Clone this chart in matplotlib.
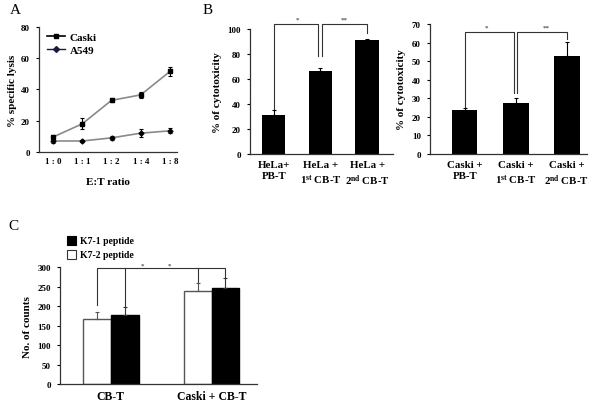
import matplotlib
matplotlib.use("Agg")
import matplotlib.pyplot as plt
from matplotlib.patches import Rectangle
import numpy as np

plt.rcParams['font.family'] = ['Liberation Serif', 'DejaVu Serif']
plt.rcParams['font.weight'] = 'bold'
plt.rcParams['mathtext.fontset'] = 'custom'
plt.rcParams['mathtext.rm'] = 'Liberation Serif:bold'
plt.rcParams['mathtext.it'] = 'Liberation Serif:bold'
plt.rcParams['mathtext.bf'] = 'Liberation Serif:bold'

# ---- Data ----
ratios = ["1 : 0", "1 : 1", "1 : 2", "1 : 4", "1 : 8"]
caski_lysis = [9.5, 18, 33, 36.5, 51.5]
caski_err = [1.5, 3.5, 1.2, 2.0, 3.0]
a549_lysis = [7, 7, 9, 12, 13.5]
a549_err = [1.0, 0.6, 1.5, 2.5, 1.5]

hela_labels = ["HeLa+\nPB-T", "HeLa +\n1$^{\\mathrm{st}}$ CB-T", "HeLa +\n2$^{\\mathrm{nd}}$ CB-T"]
hela_vals = [31, 66.5, 91]
hela_err = [4.5, 2.5, 1.0]

caski_labels = ["Caski +\nPB-T", "Caski +\n1$^{\\mathrm{st}}$ CB-T", "Caski +\n2$^{\\mathrm{nd}}$ CB-T"]
caski_vals = [23.5, 27.5, 53]
caski_verr = [1.0, 2.5, 7.5]

groups = ["CB-T", "Caski + CB-T"]
k72_vals = [167, 240]
k72_err = [17, 20]
k71_vals = [177, 246]
k71_err = [20, 27]

fig = plt.figure(figsize=(6.0, 4.1), dpi=100)

def style(ax, fs=7):
    for s in ['top', 'right']:
        ax.spines[s].set_visible(False)
    for s in ['left', 'bottom']:
        ax.spines[s].set_color('#333333')
        ax.spines[s].set_linewidth(0.9)
    ax.tick_params(axis='y', direction='out', length=2.5, width=0.8, labelsize=fs, pad=4)
    ax.tick_params(axis='x', length=0, labelsize=fs, pad=4)
    for t in ax.get_yticklabels() + ax.get_xticklabels():
        t.set_fontweight('bold')

# ---- Panel A ----
axA = fig.add_axes([0.065, 0.627, 0.23, 0.305])
x = np.arange(len(ratios))
axA.plot(x, caski_lysis, color='#8a8a8a', lw=1.2, zorder=2)
axA.errorbar(x, caski_lysis, yerr=caski_err, fmt='s', color='black', ms=3, capsize=1.5, elinewidth=0.8, capthick=0.8, zorder=3)
axA.plot(x, a549_lysis, color='#8a8a8a', lw=1.2, zorder=2)
axA.errorbar(x, a549_lysis, yerr=a549_err, fmt='D', color='black', ms=2.5, capsize=1.5, elinewidth=0.8, capthick=0.8, zorder=3)
hC, = axA.plot([], [], '-s', color='black', ms=3.5, lw=1.2)
hA, = axA.plot([], [], '-D', color='#1a1a40', ms=3, lw=1.0)
axA.legend([hC, hA], ['Caski', 'A549'], loc='upper left', frameon=False, fontsize=8,
           handlelength=1.6, handletextpad=0.4, borderaxespad=0.1, labelspacing=0.25,
           bbox_to_anchor=(0.02, 1.0))
axA.set_xlim(-0.48, 4.24)
axA.set_ylim(0, 80)
axA.set_yticks([0, 20, 40, 60, 80])
axA.set_xticks(x)
axA.set_xticklabels(ratios)
axA.set_xlabel('E:T ratio', fontsize=8, fontweight='bold', labelpad=8)
axA.set_ylabel('% specific lysis', fontsize=8, fontweight='bold', labelpad=3)
style(axA, fs=6.5)

bk = dict(color='#333333', lw=0.8, clip_on=False)
xb = np.arange(3)

# ---- Panel B (HeLa) ----
axB = fig.add_axes([0.4167, 0.622, 0.238, 0.305])
axB.bar(xb, hela_vals, width=0.5, color='black', zorder=2)
axB.errorbar(xb, hela_vals, yerr=[np.zeros(3), hela_err], fmt='none', ecolor='black',
             capsize=1.5, elinewidth=0.8, capthick=0.8, zorder=3)
axB.set_xlim(-0.51, 2.55)
axB.set_ylim(0, 100)
axB.set_yticks([0, 20, 40, 60, 80, 100])
axB.set_xticks(xb)
axB.set_xticklabels(hela_labels, linespacing=1.35)
axB.set_ylabel('% of cytotoxicity', fontsize=8, fontweight='bold', labelpad=4)
style(axB, fs=6.5)
for t in axB.get_xticklabels():
    t.set_fontsize(7.8)
ytop = 104
axB.plot([0, 0, 0.957, 0.957], [36, ytop, ytop, 78], **bk)
axB.plot([1.043, 1.043, 2, 2], [78, ytop, ytop, 97], **bk)
axB.text(0.5, 106, '*', fontsize=5, ha='center', va='bottom', color='#555555')
axB.text(1.5, 106, '**', fontsize=5, ha='center', va='bottom', color='#555555')

# ---- Panel B right (Caski) ----
axB2 = fig.add_axes([0.7167, 0.622, 0.262, 0.317])
axB2.bar(xb, caski_vals, width=0.5, color='black', zorder=2)
axB2.errorbar(xb, caski_vals, yerr=[np.zeros(3), caski_verr], fmt='none', ecolor='black',
              capsize=1.5, elinewidth=0.8, capthick=0.8, zorder=3)
axB2.set_xlim(-0.68, 2.4)
axB2.set_ylim(0, 70)
axB2.set_yticks(np.arange(0, 71, 10))
axB2.set_xticks(xb)
axB2.set_xticklabels(caski_labels, linespacing=1.35)
axB2.set_ylabel('% of cytotoxicity', fontsize=8, fontweight='bold', labelpad=4)
style(axB2, fs=6.5)
for t in axB2.get_xticklabels():
    t.set_fontsize(7.8)
ytop2 = 65.7
axB2.plot([0, 0, 0.97, 0.97], [25.5, ytop2, ytop2, 33], **bk)
axB2.plot([1.03, 1.03, 2, 2], [33, ytop2, ytop2, 62], **bk)
axB2.text(0.43, 67, '*', fontsize=5, ha='center', va='bottom', color='#555555')
axB2.text(1.6, 67, '**', fontsize=5, ha='center', va='bottom', color='#555555')

# ---- Panel C ----
axC = fig.add_axes([0.1, 0.061, 0.328, 0.285])
xg = np.arange(2)
w = 0.277
axC.bar(xg - w / 2, k72_vals, width=w, color='white', edgecolor='#555555', lw=1.0, zorder=2)
axC.bar(xg + w / 2, k71_vals, width=w, color='black', edgecolor='black', lw=1.0, zorder=2)
axC.errorbar(xg - w / 2, k72_vals, yerr=[np.zeros(2), k72_err], fmt='none', ecolor='#555555',
             capsize=1.5, elinewidth=0.8, capthick=0.8, zorder=3)
axC.errorbar(xg + w / 2, k71_vals, yerr=[np.zeros(2), k71_err], fmt='none', ecolor='#333333',
             capsize=1.5, elinewidth=0.8, capthick=0.8, zorder=3)
axC.set_xlim(-0.505, 1.45)
axC.set_ylim(0, 300)
axC.set_yticks(np.arange(0, 301, 50))
axC.set_xticks(xg)
axC.set_xticklabels(groups)
axC.set_ylabel('No. of counts', fontsize=8, fontweight='bold', labelpad=4)
style(axC, fs=6.5)
for t in axC.get_xticklabels():
    t.set_fontsize(8.5)
ytc = 298
axC.plot([-w / 2, -w / 2, 1 + w / 2, 1 + w / 2], [203, ytc, ytc, 273], **bk)
axC.plot([w / 2, w / 2], [198, ytc], **bk)
axC.plot([1 - w / 2, 1 - w / 2], [262, ytc], **bk)
axC.text(0.31, 300, '*', fontsize=5, ha='center', va='bottom', color='#555555')
axC.text(0.58, 300, '*', fontsize=5, ha='center', va='bottom', color='#555555')

fig.patches.append(Rectangle((67 / 600, 1 - 246 / 410), 9 / 600, 9 / 410, transform=fig.transFigure,
                             facecolor='black', edgecolor='black', lw=0.8))
fig.patches.append(Rectangle((67 / 600, 1 - 260 / 410), 9 / 600, 9 / 410, transform=fig.transFigure,
                             facecolor='white', edgecolor='#333333', lw=0.8))
fig.text(80 / 600, 1 - 242 / 410, 'K7-1 peptide', fontsize=7, fontweight='bold', va='center')
fig.text(80 / 600, 1 - 256 / 410, 'K7-2 peptide', fontsize=7, fontweight='bold', va='center')

fig.text(10 / 600, 1 - 11 / 410, 'A', fontsize=11, fontweight='normal', va='center')
fig.text(203 / 600, 1 - 11 / 410, 'B', fontsize=11, fontweight='normal', va='center')
fig.text(8 / 600, 1 - 226 / 410, 'C', fontsize=11, fontweight='normal', va='center')

fig.savefig('out.png', dpi=100)
